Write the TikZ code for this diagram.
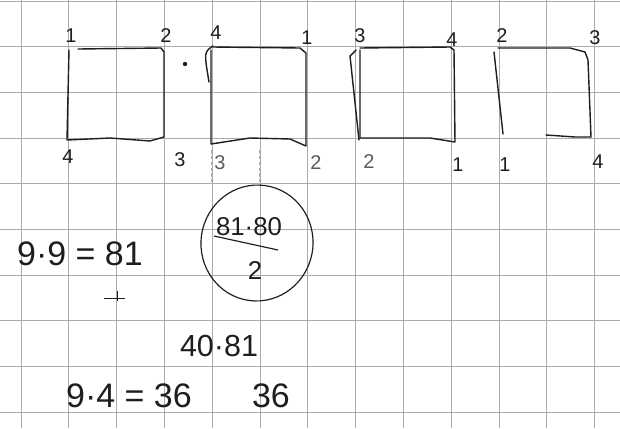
\documentclass[tikz,border=0pt]{standalone}
\usepackage{fontspec}
\setmainfont{Liberation Sans}
\usepackage{tikz}
\usetikzlibrary{positioning}
\definecolor{grid2}{HTML}{ABABAB}
\definecolor{ink2}{HTML}{1E1E1E}
\definecolor{pencil2}{HTML}{5A5A5A}

\begin{document}
\begin{tikzpicture}[
      x=0.3mm, y=-0.3mm,
      gridln/.style={grid2, line width=0.75pt},
      faint/.style={grid2, line width=0.5pt, densely dashed},
      pen/.style={ink2, line width=1.2pt, line join=round, line cap=round},
      corner/.style={font=\fontsize{17}{19}\selectfont, text=ink2, inner sep=0pt},
      soft/.style={corner, text=pencil2},
      calc/.style={font=\fontsize{29}{31}\selectfont, text=ink2, inner sep=0pt}
  ]
    \useasboundingbox (0,0) rectangle (620,428);
    \fill[white] (0,0) rectangle (620,428);
    % squared paper
    \foreach \k in {0,...,12}
      \draw[gridln] ({21+47.8*\k},0) -- ({21+47.8*\k},428);
    \foreach \k in {0,...,9}
      \draw[gridln] (0,{1+45.7*\k}) -- (620,{1+45.7*\k});
    \foreach \gx in {211,259,307,355}
      \draw[faint] (\gx,150) -- (\gx,182);

    % four squares
    \draw[pen] (78,49) -- (161,48) -- (164,52) -- (164,137) -- (150,141)
      -- (110,138) -- (67,140) -- (69,50);
    \draw[pen] (213,47) -- (300,48) -- (306,53) -- (306,146) -- (290,139)
      -- (250,138) -- (211,144) -- (211,50);
    \draw[pen] (213,46) .. controls (204,52) .. (209,82);
    \draw[pen] (360,48) -- (450,47) -- (454,50) -- (455,142) -- (430,138)
      -- (360,138) -- (360,50);
    \draw[pen] (356,50) -- (350,56) -- (359,140);
    \draw[pen] (498,48) -- (570,48) -- (585,52) -- (588,60) -- (591,137)
      -- (575,137) -- (546,135);
    \draw[pen] (494,52) -- (503,134);
    \fill[ink2] (185,64) circle (2.2);

    % corner numbers
    \node[corner] (s1tl) at (71,36) {1};
    \node[corner] (s1tr) at (166,36) {2};
    \node[corner] (s1bl) at (68,157) {4};
    \node[corner] (s1br) at (180,160) {3};
    \node[corner] (s2tl) at (216,33) {4};
    \node[corner] (s2tr) at (307,38) {1};
    \node[soft] (s2bl) at (220,163) {3};
    \node[soft] (s2br) at (316,163) {2};
    \node[corner] (s3tl) at (360,36) {3};
    \node[corner] (s3tr) at (452,40) {4};
    \node[soft] (s3bl) at (369,162) {2};
    \node[corner] (s3br) at (458,165) {1};
    \node[corner] (s4tl) at (502,36) {2};
    \node[corner] (s4tr) at (595,38) {3};
    \node[corner] (s4bl) at (505,165) {1};
    \node[corner] (s4br) at (598,162) {4};

    % working
    \node[calc] (sq) at (80,254) {9·9 = 81};
    \draw[ink2, line width=0.6pt] (104,298) -- (125,298) (117,291) -- (117,301);
    \node[font=\fontsize{22}{24}\selectfont, text=ink2, inner sep=0pt] (num) at (249,227) {81·80};
    \coordinate (barL) at (214,236);
    \coordinate (barR) at (278,250);
    \draw[ink2, line width=1pt] (barL) -- (barR);
    \node[font=\fontsize{22}{24}\selectfont, text=ink2, inner sep=0pt] (den) at (255,270) {2};
    \draw[ink2, line width=1pt, rotate around={-8:(257,243)}] (257,243) ellipse (56 and 58);
    \node[font=\fontsize{26}{28}\selectfont, text=ink2, inner sep=0pt] (prod) at (219,346) {40·81};
    \node[calc] (cnt) at (129,396) {9·4 = 36};
    \node[calc] (res) at (271,396) {36};
  \end{tikzpicture}
\end{document}
